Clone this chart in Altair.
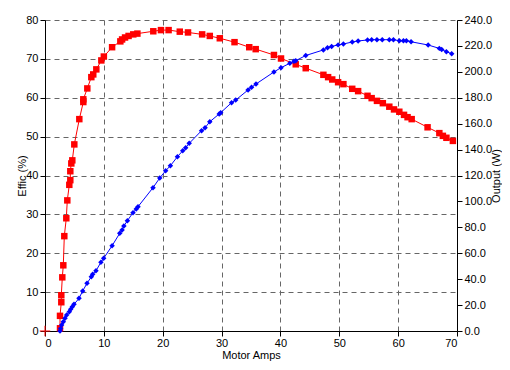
import altair as alt
import pandas as pd

# Efficiency series (Motor Amps, Effic %)
eff_amps = [2.55, 2.55, 2.77, 2.77, 2.94, 3.11, 3.28, 3.62, 3.79, 4.13, 4.30, 4.30, 4.47, 4.64,
            4.98, 5.83, 6.51, 6.51, 7.19, 7.87, 8.20, 8.72, 9.57, 10.0, 11.4, 12.8, 13.1, 13.6,
            14.2, 15.0, 15.7, 18.4, 19.7, 21.0, 22.9, 24.3, 26.7, 28.0, 29.7, 32.2, 34.7, 35.8,
            38.9, 40.1, 42.6, 44.3, 47.3, 48.1, 48.8, 49.8, 50.7, 52.2, 53.2, 54.8, 55.5, 56.4,
            57.4, 58.5, 59.3, 60.2, 61.0, 61.6, 62.3, 65.0, 67.0, 67.6, 68.2, 69.3]
eff_vals = [0.7, 3.9, 7.4, 9.2, 13.8, 16.9, 24.4, 29.0, 33.6, 37.6, 38.8, 41.1, 43.1, 43.9,
            48.0, 54.5, 58.9, 59.6, 62.4, 65.3, 66.0, 67.3, 69.6, 70.6, 73.0, 74.5, 75.0, 75.5,
            75.9, 76.3, 76.5, 77.1, 77.4, 77.4, 77.0, 76.8, 76.3, 75.9, 75.3, 74.3, 73.0, 72.5,
            71.0, 70.1, 68.6, 67.6, 65.9, 65.3, 64.7, 64.0, 63.5, 62.3, 61.7, 60.5, 59.9, 59.2,
            58.6, 57.7, 57.0, 56.4, 55.6, 55.0, 54.5, 52.4, 50.9, 50.2, 49.7, 48.9]

# Output series (Motor Amps, Output W)
out_amps = [2.55, 2.66, 2.83, 3.11, 3.40, 3.68, 4.13, 4.36, 4.64, 4.93, 5.78, 6.40, 7.14, 7.87,
            8.10, 8.66, 9.50, 9.97, 11.4, 12.7, 13.1, 13.4, 14.0, 14.95, 15.5, 15.8, 18.35, 19.5,
            20.5, 21.3, 22.5, 23.4, 23.9, 24.5, 26.6, 27.2, 28.0, 29.6, 29.85, 31.7, 32.4, 34.5,
            35.1, 35.85, 38.9, 40.1, 41.6, 42.3, 42.6, 44.3, 47.3, 48.0, 48.7, 49.8, 50.7, 52.2,
            53.2, 54.8, 55.5, 56.4, 57.3, 58.5, 59.2, 60.2, 60.9, 61.4, 62.2, 65.1, 67.0, 67.4,
            68.2, 69.1]
out_vals = [0.0, 2.0, 4.6, 7.2, 9.8, 12.3, 14.9, 16.7, 18.8, 20.6, 25.2, 30.9, 36.8, 41.9,
            43.8, 46.5, 53.0, 56.1, 65.8, 75.4, 77.9, 81.0, 85.1, 91.3, 94.1, 95.9, 110.6, 118.1,
            123.7, 127.5, 134.5, 139.1, 141.5, 144.8, 154.6, 156.9, 161.5, 167.5, 168.5, 176.2, 178.2, 186.0,
            188.1, 190.6, 199.9, 203.2, 206.6, 208.1, 208.6, 212.6, 216.9, 218.6, 219.6, 220.8, 221.5, 223.0,
            223.8, 224.6, 224.8, 224.8, 224.8, 224.8, 224.8, 224.0, 224.0, 224.0, 223.2, 220.7, 218.1, 217.3,
            215.5, 214.0]

origin_amps = [0]
origin_eff = [0]

eff_df = pd.DataFrame({"amps": eff_amps, "eff": eff_vals, "i": range(len(eff_amps))})
out_df = pd.DataFrame({"amps": out_amps, "out": out_vals, "i": range(len(out_amps))})
origin_df = pd.DataFrame({"amps": origin_amps, "eff": origin_eff})

x_enc = alt.X("amps:Q", title="Motor Amps",
              scale=alt.Scale(domain=[0, 70], nice=False),
              axis=alt.Axis(values=list(range(0, 71, 10)), grid=True, labelPadding=1,
                            titleX=206, titleY=24, titleAlign="center", titleBaseline="middle",
                            titleAnchor="middle"))

y_left = alt.Y("eff:Q", title="Effic (%)",
               scale=alt.Scale(domain=[0, 80], nice=False),
               axis=alt.Axis(values=list(range(0, 81, 10)), grid=True,
                             titleX=-23, titleY=155.5, titleAngle=270, titleAlign="center",
                             titleBaseline="middle"))

y_right = alt.Y("out:Q", title="Output (W)",
                scale=alt.Scale(domain=[0, 240], nice=False),
                axis=alt.Axis(orient="right", values=list(range(0, 241, 20)), format=".1f",
                              grid=False, titleX=39, titleY=155.5, titleAngle=270,
                              titleAlign="center", titleBaseline="middle"))

red_line = alt.Chart(eff_df).mark_line(color="#FF0000", strokeWidth=1).encode(
    x=x_enc, y=y_left, order="i:Q")
red_pts = alt.Chart(eff_df).mark_point(shape="square", filled=True, color="#FF0000",
                                       size=42, opacity=1).encode(x=x_enc, y=y_left)
red_origin = alt.Chart(origin_df).mark_point(shape="M-1,0H1M0,-1V1", filled=False,
                                             color="#FF0000", size=110, strokeWidth=1,
                                             opacity=1).encode(x=x_enc, y=y_left)
left = alt.layer(red_line, red_pts, red_origin)

blue_line = alt.Chart(out_df).mark_line(color="#0000FF", strokeWidth=1).encode(
    x=x_enc, y=y_right, order="i:Q")
blue_pts = alt.Chart(out_df).mark_point(shape="diamond", filled=True, color="#0000FF",
                                        size=30, opacity=1).encode(x=x_enc, y=y_right)
right = alt.layer(blue_line, blue_pts)

chart = alt.layer(left, right).resolve_scale(y="independent").properties(
    width=412, height=311,
    autosize=alt.AutoSizeParams(type="none"),
    padding={"left": 37, "top": 12, "right": 45, "bottom": 30},
    background="white",
).configure_view(stroke=None).configure_axis(
    domainColor="#000000", tickColor="#000000", labelColor="#000000", titleColor="#000000",
    labelFont="Liberation Sans", titleFont="Liberation Sans",
    labelFontSize=11, titleFontSize=11, titleFontWeight="normal",
    tickSize=5, labelPadding=2,
    gridColor="#666666", gridDash=[5, 4], gridWidth=1, gridOpacity=1,
    domainWidth=1, tickWidth=1,
)

chart.save("out.html", embed_options={"renderer": "svg", "actions": False})
